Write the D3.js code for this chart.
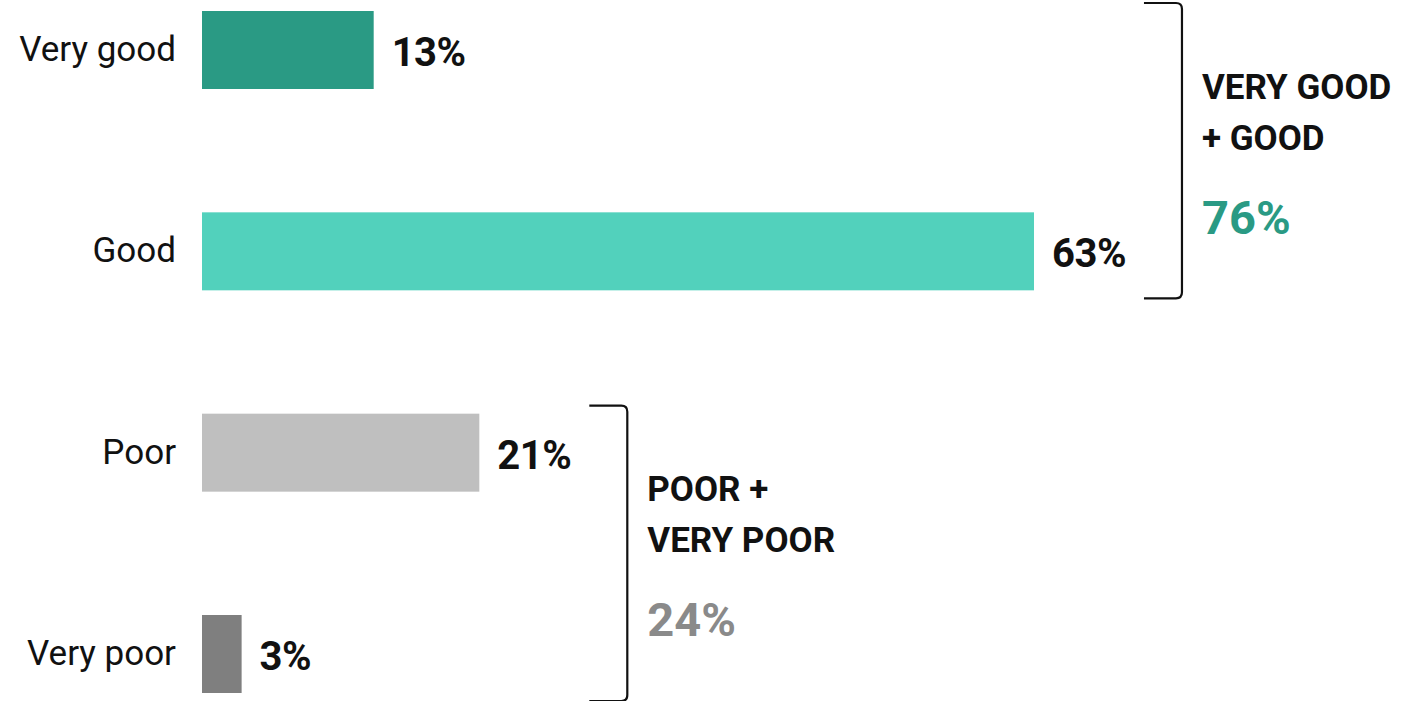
<!DOCTYPE html>
<html>
<head>
<meta charset="utf-8">
<script src="https://cdn.jsdelivr.net/npm/d3@7"></script>
<style>
  html, body { margin: 0; padding: 0; background: #ffffff; }
  svg { display: block; }
  text { font-family: Roboto, "Noto Sans", sans-serif; }
</style>
</head>
<body>
<svg id="chart" width="1413" height="701"></svg>
<script>
// Ratings and their shares (%)
const categories = ["Very good", "Good", "Poor", "Very poor"];
const values = [13, 63, 21, 3];
const barColors = ["#2a9a84", "#52d1bc", "#bfbfbf", "#7f7f7f"];

// Combined groups shown beside the bars
const groupLabels = [["VERY GOOD", "+ GOOD"], ["POOR +", "VERY POOR"]];
const groupMembers = [["Very good", "Good"], ["Poor", "Very poor"]];
const groupTotals = [76, 24];
const groupColors = ["#2a9a84", "#8a8a8a"];

const svg = d3.select("#chart");

const x = d3.scaleLinear().domain([0, 63]).range([202, 1034]);
const y = d3.scaleBand().domain(categories).range([11, 693])
  .paddingInner(0.6126).paddingOuter(0);

const rows = categories.map((c, i) => ({ cat: c, value: values[i], color: barColors[i] }));

// Bars
svg.append("g").selectAll("rect").data(rows).join("rect")
  .attr("x", x(0))
  .attr("y", d => y(d.cat))
  .attr("width", d => x(d.value) - x(0))
  .attr("height", y.bandwidth())
  .attr("fill", d => d.color);

// Category labels
svg.append("g").selectAll("text").data(rows).join("text")
  .attr("x", 176)
  .attr("y", d => y(d.cat) + y.bandwidth() / 2 + 11)
  .attr("text-anchor", "end")
  .attr("font-size", 35)
  .attr("font-weight", 400)
  .attr("fill", "#111")
  .text(d => d.cat);

// Value labels
const valueLabels = svg.append("g").selectAll("text").data(rows).join("text")
  .attr("x", d => x(d.value) + 18)
  .attr("y", d => y(d.cat) + y.bandwidth() / 2 + 16)
  .attr("font-size", 40)
  .attr("font-weight", 700)
  .attr("letter-spacing", -0.5)
  .attr("fill", "#111")
  .text(d => d.value + "%");

// Label right edges, used to place the brackets
const labelEnd = {};
valueLabels.each(function (d) {
  labelEnd[d.cat] = x(d.value) + 18 + this.getComputedTextLength();
});

// Brackets and group totals
groupMembers.forEach((members, gi) => {
  const top = y(members[0]) - 8;
  const bottom = y(members[members.length - 1]) + y.bandwidth() + 8;
  const bx = d3.max(members, m => labelEnd[m]) + 56;
  const left = bx - 38;
  const r = 6;
  const p = d3.path();
  p.moveTo(left, top);
  p.lineTo(bx - r, top);
  p.quadraticCurveTo(bx, top, bx, top + r);
  p.lineTo(bx, bottom - r);
  p.quadraticCurveTo(bx, bottom, bx - r, bottom);
  p.lineTo(left, bottom);
  svg.append("path")
    .attr("d", p.toString())
    .attr("fill", "none")
    .attr("stroke", "#111")
    .attr("stroke-width", 2.2);

  const tx = bx + 20;
  const mid = (top + bottom) / 2;
  groupLabels[gi].forEach((line, li) => {
    svg.append("text")
      .attr("x", tx)
      .attr("y", mid - 52 + li * 51)
      .attr("font-size", 35)
      .attr("font-weight", 700)
      .attr("fill", "#111")
      .text(line);
  });
  svg.append("text")
    .attr("x", tx)
    .attr("y", mid + 83)
    .attr("font-size", 47)
    .attr("font-weight", 700)
    .attr("fill", groupColors[gi])
    .text(groupTotals[gi] + "%");
});
</script>
</body>
</html>
